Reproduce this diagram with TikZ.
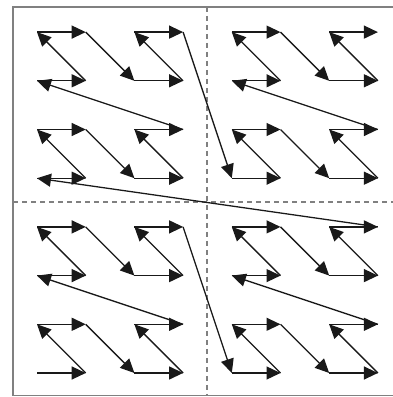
\documentclass[tikz,border=0pt]{standalone}
\usetikzlibrary{arrows.meta}
\tikzset{
  seg/.style={line width=1.3pt, black!90, -{Triangle[length=14pt,width=13pt]}},
  frameline/.style={line width=1.6pt, gray},
  divider/.style={line width=1.3pt, gray, dash pattern=on 5pt off 4pt}
}
\begin{document}
\begin{tikzpicture}[x=1pt,y=1pt]
\useasboundingbox (0,0) rectangle (392,397);
% frame
\coordinate (ftr) at (395,390);
\coordinate (ftl) at (13,390);
\coordinate (fbl) at (13,1.5);
\coordinate (fbr) at (395,1.5);
\draw[frameline] (ftr) -- (ftl) -- (fbl) -- (fbr);
% dashed dividers
\coordinate (vt) at (207,390);
\coordinate (vb) at (207,1.5);
\coordinate (hl) at (13,195);
\coordinate (hr) at (395,195);
\draw[divider] (vt) -- (vb);
\draw[divider] (hl) -- (hr);
% Morton order points
\foreach \n in {0,...,63} {
  \pgfmathtruncatemacro\ix{mod(\n,2)+2*mod(floor(\n/4),2)+4*mod(floor(\n/16),2)}
  \pgfmathtruncatemacro\iy{mod(floor(\n/2),2)+2*mod(floor(\n/8),2)+4*mod(floor(\n/32),2)}
  \coordinate (m\n) at ({37+48.7*\ix},{24+48.7*\iy});
}
\foreach \n [evaluate=\n as \nn using int(\n+1)] in {0,...,62}
  \draw[seg] (m\n) -- (m\nn);
\end{tikzpicture}
\end{document}
